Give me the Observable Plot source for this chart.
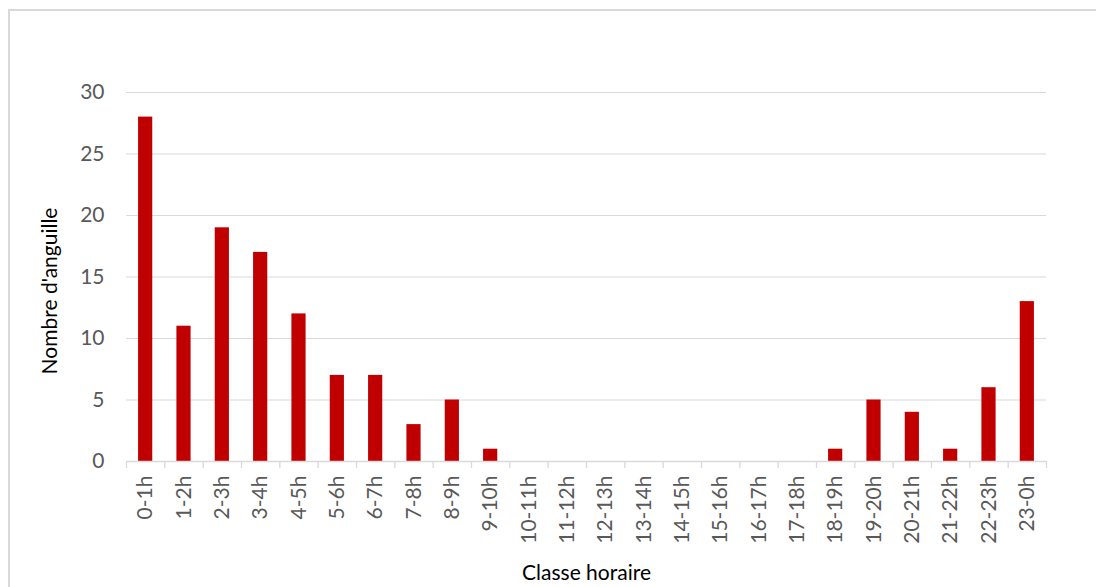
<!DOCTYPE html>
<html>
<head>
<meta charset="utf-8">
<script src="https://cdn.jsdelivr.net/npm/d3@7"></script>
<script src="https://cdn.jsdelivr.net/npm/@observablehq/plot@0.6"></script>
<style>
  html, body { margin: 0; padding: 0; background: #fff; }
  #wrap { position: relative; width: 1096px; height: 587px; overflow: hidden; }
  #frame { position: absolute; left: 8px; top: 9px; width: 1200px; height: 700px; border: 2px solid #d9d9d9; box-sizing: border-box; }
  #chart { position: absolute; left: 0; top: 0; }
</style>
</head>
<body>
<div id="wrap"><div id="frame"></div><div id="chart"></div></div>
<script>
const classes = ["0-1h","1-2h","2-3h","3-4h","4-5h","5-6h","6-7h","7-8h","8-9h","9-10h","10-11h","11-12h","12-13h","13-14h","14-15h","15-16h","16-17h","17-18h","18-19h","19-20h","20-21h","21-22h","22-23h","23-0h"];
const counts = [28, 11, 19, 17, 12, 7, 7, 3, 5, 1, 0, 0, 0, 0, 0, 0, 0, 0, 1, 5, 4, 1, 6, 13];
const yTicks = [0, 5, 10, 15, 20, 25, 30];

const data = classes.map((c, i) => ({classe: c, n: counts[i]}));

const W = 1096, H = 587;
const mL = 126, mR = 50, mT = 92, mB = 126;
const step = (W - mL - mR) / classes.length;
const font = "Lato, 'Open Sans', sans-serif";

const chart = Plot.plot({
  width: W,
  height: H,
  marginLeft: mL,
  marginRight: mR,
  marginTop: mT,
  marginBottom: mB,
  style: {fontFamily: font, fontSize: "21px", background: "transparent", overflow: "visible"},
  x: {domain: classes, paddingInner: 0.63, paddingOuter: 0.315, round: false},
  y: {domain: [0, 30], ticks: yTicks},
  marks: [
    Plot.gridY(yTicks, {stroke: "#d9d9d9", strokeOpacity: 1, strokeWidth: 1}),
    Plot.barY(data, {x: "classe", y: "n", fill: "#c00000"}),
    Plot.ruleY([0], {stroke: "#d9d9d9", strokeWidth: 1.3}),
    Plot.ruleX(classes, {x: d => d, y1: 0, y2: 0, insetBottom: -7, dx: -step / 2, stroke: "#d9d9d9", strokeWidth: 1.3}),
    Plot.ruleX(classes.slice(-1), {x: d => d, y1: 0, y2: 0, insetBottom: -7, dx: step / 2, stroke: "#d9d9d9", strokeWidth: 1.3}),
    Plot.axisY(yTicks, {tickSize: 0, tickPadding: 22, fill: "#595959", fontSize: 21, label: "Nombre d'anguille", labelAnchor: "center", labelArrow: "none", labelOffset: 84}),
    Plot.axisX({tickSize: 0, tickPadding: 14, tickRotate: -90, fill: "#595959", fontSize: 21, label: "Classe horaire", labelAnchor: "center", labelArrow: "none", labelOffset: 118})
  ]
});
document.getElementById("chart").appendChild(chart);
// axis titles in black
chart.querySelectorAll("g[aria-label='y-axis label'], g[aria-label='x-axis label']").forEach(g => {
  g.setAttribute("fill", "#000");
  g.querySelectorAll("text").forEach(t => t.setAttribute("fill", "#000"));
});
const yl = chart.querySelector("g[aria-label='y-axis label']");
if (yl) yl.setAttribute("transform", "translate(0,14) " + (yl.getAttribute("transform") || ""));
</script>
</body>
</html>
